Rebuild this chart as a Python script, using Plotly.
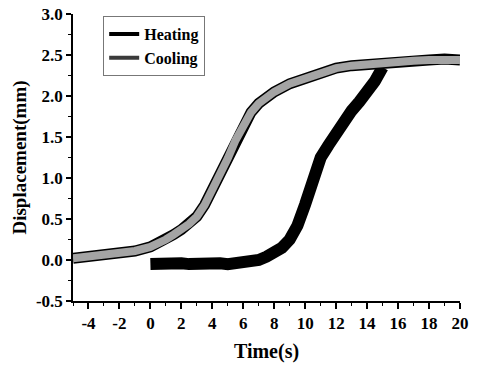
import plotly.graph_objects as go

# Heating curve (time s, displacement mm)
heat_t = [0.0, 0.5, 1.0, 1.5, 2.0, 2.5, 3.0, 3.5, 4.0, 4.5, 5.0, 5.5, 6.0, 6.5, 7.0,
          7.5, 8.0, 8.5, 9.0, 9.5, 10.0, 10.5, 11.0, 11.5, 12.0, 12.5, 13.0, 13.5,
          14.0, 14.5, 15.0]
heat_d = [-0.05, -0.04, -0.05, -0.05, -0.04, -0.05, -0.04, -0.05, -0.05, -0.04, -0.05,
          -0.04, -0.03, -0.02, 0.0, 0.04, 0.09, 0.15, 0.25, 0.42, 0.68, 1.0, 1.25,
          1.4, 1.55, 1.7, 1.82, 1.93, 2.05, 2.18, 2.35]

# Cooling curve
cool_t = [-5.0, -4.0, -3.0, -2.0, -1.0, 0.0, 0.5, 1.0, 1.5, 2.0, 2.5, 3.0, 3.5, 4.0,
          4.5, 5.0, 5.5, 6.0, 6.5, 7.0, 7.5, 8.0, 9.0, 10.0, 11.0, 12.0, 13.0, 14.0,
          15.0, 16.0, 17.0, 18.0, 19.0, 20.0]
cool_d = [0.02, 0.04, 0.06, 0.08, 0.11, 0.16, 0.2, 0.25, 0.31, 0.37, 0.44, 0.53, 0.67,
          0.86, 1.04, 1.24, 1.46, 1.65, 1.80, 1.91, 1.99, 2.05, 2.15, 2.22, 2.29, 2.34,
          2.37, 2.39, 2.41, 2.42, 2.43, 2.44, 2.45, 2.44]

x_ticks = [-4, -2, 0, 2, 4, 6, 8, 10, 12, 14, 16, 18, 20]
y_ticks = [-0.5, 0.0, 0.5, 1.0, 1.5, 2.0, 2.5, 3.0]

FONT = "Liberation Serif"

fig = go.Figure()
fig.add_trace(go.Scatter(x=heat_t, y=heat_d, mode="lines", showlegend=False,
                         line=dict(color="black", width=12), hoverinfo="skip"))
fig.add_trace(go.Scatter(x=cool_t, y=cool_d, mode="lines", showlegend=False,
                         line=dict(color="black", width=11), hoverinfo="skip"))
fig.add_trace(go.Scatter(x=cool_t, y=cool_d, mode="lines", showlegend=False,
                         line=dict(color="#a4a4a4", width=8), hoverinfo="skip"))
# legend entries
fig.add_trace(go.Scatter(x=[None], y=[None], mode="lines", name="Heating",
                         line=dict(color="black", width=4)))
fig.add_trace(go.Scatter(x=[None], y=[None], mode="lines", name="Cooling",
                         line=dict(color="#3a3a3a", width=4)))

fig.update_layout(
    width=479, height=366,
    margin=dict(l=73, r=19, t=14, b=65),
    paper_bgcolor="white", plot_bgcolor="white",
    font=dict(family=FONT, color="black"),
    legend=dict(x=0.078, y=0.993, xanchor="left", yanchor="top",
                bgcolor="white", bordercolor="#777", borderwidth=1,
                font=dict(family=FONT, size=16, weight="bold", color="black"),
                tracegroupgap=0, itemwidth=30),
)
fig.update_xaxes(
    range=[-5, 20], tickvals=x_ticks, ticktext=[str(v) for v in x_ticks],
    automargin=False,
    showgrid=False, zeroline=False, showline=True, linecolor="black", linewidth=1.5,
    ticks="outside", ticklen=6, tickwidth=1.5, tickcolor="black",
    tickfont=dict(family=FONT, size=17, weight="bold"),
    minor=dict(dtick=1, tick0=0, ticks="outside", ticklen=3, tickcolor="black", tickwidth=1),
    title=dict(text="Time(s)", font=dict(family=FONT, size=20, weight="bold"), standoff=12),
)
fig.update_yaxes(
    range=[-0.5, 3.0], tickvals=y_ticks, ticktext=[f"{v:.1f}" for v in y_ticks],
    automargin=False,
    showgrid=False, zeroline=False, showline=True, linecolor="black", linewidth=1.5,
    ticks="outside", ticklen=5, tickwidth=1.5, tickcolor="black",
    tickfont=dict(family=FONT, size=17, weight="bold"),
    minor=dict(dtick=0.25, tick0=0, ticks="outside", ticklen=3, tickcolor="black", tickwidth=1),
    title=dict(text="Displacement(mm)", font=dict(family=FONT, size=19, weight="bold"), standoff=4),
)

fig.write_html("out.html", config={"displayModeBar": False},
               post_script="document.body.style.margin='0';document.body.style.overflow='hidden';")
